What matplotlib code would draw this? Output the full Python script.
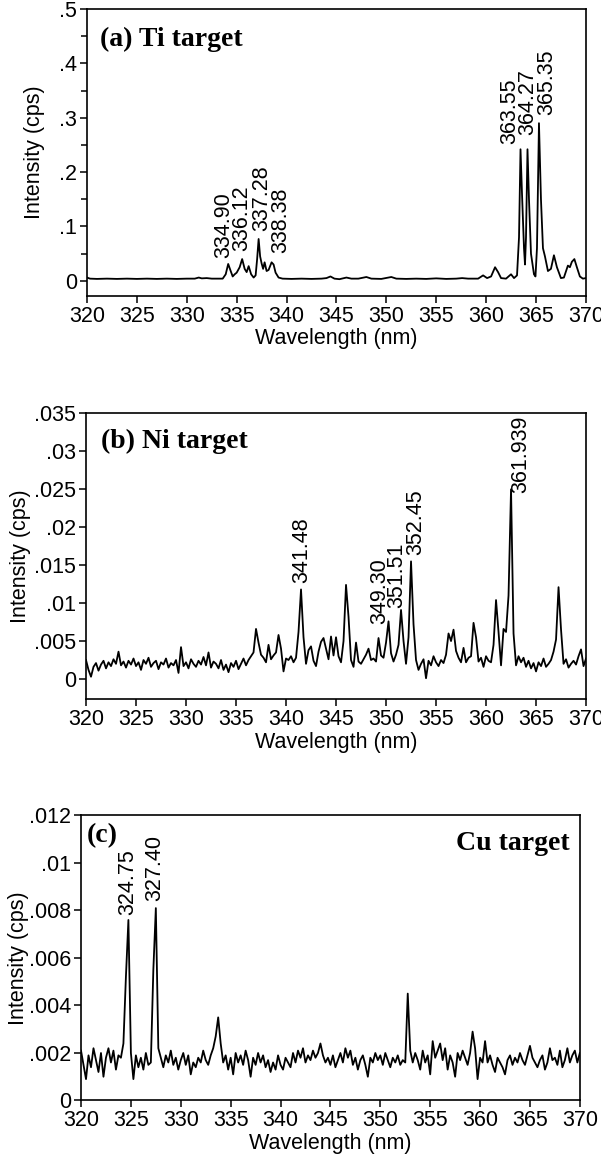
import matplotlib
matplotlib.use("Agg")
import matplotlib.pyplot as plt
from matplotlib.ticker import FixedLocator, FuncFormatter

plt.rcParams["font.family"] = ["Liberation Sans", "DejaVu Sans"]

# shared 0.25 nm sampling grid for the Ni and Cu scans
grid_wl = [
    320.0, 320.25, 320.5, 320.75, 321.0, 321.25, 321.5, 321.75,
    322.0, 322.25, 322.5, 322.75, 323.0, 323.25, 323.5, 323.75,
    324.0, 324.25, 324.5, 324.75, 325.0, 325.25, 325.5, 325.75,
    326.0, 326.25, 326.5, 326.75, 327.0, 327.25, 327.5, 327.75,
    328.0, 328.25, 328.5, 328.75, 329.0, 329.25, 329.5, 329.75,
    330.0, 330.25, 330.5, 330.75, 331.0, 331.25, 331.5, 331.75,
    332.0, 332.25, 332.5, 332.75, 333.0, 333.25, 333.5, 333.75,
    334.0, 334.25, 334.5, 334.75, 335.0, 335.25, 335.5, 335.75,
    336.0, 336.25, 336.5, 336.75, 337.0, 337.25, 337.5, 337.75,
    338.0, 338.25, 338.5, 338.75, 339.0, 339.25, 339.5, 339.75,
    340.0, 340.25, 340.5, 340.75, 341.0, 341.25, 341.5, 341.75,
    342.0, 342.25, 342.5, 342.75, 343.0, 343.25, 343.5, 343.75,
    344.0, 344.25, 344.5, 344.75, 345.0, 345.25, 345.5, 345.75,
    346.0, 346.25, 346.5, 346.75, 347.0, 347.25, 347.5, 347.75,
    348.0, 348.25, 348.5, 348.75, 349.0, 349.25, 349.5, 349.75,
    350.0, 350.25, 350.5, 350.75, 351.0, 351.25, 351.5, 351.75,
    352.0, 352.25, 352.5, 352.75, 353.0, 353.25, 353.5, 353.75,
    354.0, 354.25, 354.5, 354.75, 355.0, 355.25, 355.5, 355.75,
    356.0, 356.25, 356.5, 356.75, 357.0, 357.25, 357.5, 357.75,
    358.0, 358.25, 358.5, 358.75, 359.0, 359.25, 359.5, 359.75,
    360.0, 360.25, 360.5, 360.75, 361.0, 361.25, 361.5, 361.75,
    362.0, 362.25, 362.5, 362.75, 363.0, 363.25, 363.5, 363.75,
    364.0, 364.25, 364.5, 364.75, 365.0, 365.25, 365.5, 365.75,
    366.0, 366.25, 366.5, 366.75, 367.0, 367.25, 367.5, 367.75,
    368.0, 368.25, 368.5, 368.75, 369.0, 369.25, 369.5, 369.75,
    370.0,
]

# (a) Ti target
ti_wl = [
    320.0, 320.3, 321.0, 322.0, 323.0, 324.0, 325.0, 326.0, 327.0, 328.0,
    329.0, 330.0, 330.8, 331.2, 331.5, 332.0, 332.5, 333.0, 333.6, 333.9,
    334.15, 334.4, 334.6, 334.8, 335.0, 335.3, 335.55, 335.8, 336.0, 336.2,
    336.45, 336.7, 336.9, 337.05, 337.2, 337.35, 337.5, 337.65, 337.8, 338.0,
    338.2, 338.5, 338.7, 338.9, 339.2, 339.6, 340.5, 341.5, 342.5, 343.5,
    344.0, 344.4, 344.8, 345.3, 346.0, 346.5, 347.2, 348.0, 348.5, 349.5,
    350.5, 351.0, 352.0, 353.0, 354.0, 355.0, 356.0, 357.0, 357.6, 358.2,
    359.2, 359.7, 360.1, 360.5, 360.9, 361.2, 361.5, 362.0, 362.5, 362.8,
    363.1, 363.3, 363.45, 363.6, 363.8, 363.9, 364.0, 364.15, 364.3, 364.5,
    364.8, 364.95, 365.1, 365.3, 365.5, 365.7, 365.9, 366.2, 366.5, 366.8,
    367.1, 367.5, 367.8, 368.2, 368.4, 368.6, 368.85, 369.1, 369.4, 369.7,
    370.0,
]
ti_int = [
    .006, .004, .0035, .004, .0035, .004, .0035, .004, .0035, .004,
    .0035, .004, .004, .006, .0045, .005, .004, .004, .004, .012,
    .031, .018, .008, .012, .015, .025, .040, .022, .016, .027,
    .012, .006, .010, .040, .077, .045, .032, .022, .034, .018,
    .020, .034, .030, .015, .006, .004, .0035, .004, .0035, .004,
    .005, .008, .004, .003, .006, .004, .004, .007, .004, .0035,
    .007, .004, .0035, .004, .0035, .0045, .0035, .004, .005, .004,
    .004, .010, .005, .008, .025, .016, .005, .004, .012, .005,
    .010, .080, .242, .160, .060, .030, .080, .242, .150, .050,
    .012, .008, .060, .290, .150, .060, .045, .018, .022, .047,
    .025, .005, .006, .028, .025, .035, .040, .025, .008, .004,
    .005,
]
ti_lines = ["334.90", "336.12", "337.28", "338.38", "363.55", "364.27", "365.35"]
ti_label_x = [333.66, 335.5, 337.5, 339.4, 362.38, 364.22, 366.06]
ti_label_y = [0.042, 0.054, 0.091, 0.051, 0.252, 0.268, 0.305]
ti_yticks = [0, .1, .2, .3, .4, .5]

# (b) Ni target
ni_int = [
    .0025, .0012, .0003, .0016, .0021, .0011, .0019, .0024,
    .0014, .0022, .0017, .0026, .0020, .0036, .0018, .0023,
    .0015, .0024, .0019, .0027, .0017, .0022, .0012, .0025,
    .0020, .0028, .0016, .0021, .0024, .0013, .0022, .0019,
    .0027, .0015, .0021, .0018, .0025, .0008, .0042, .0017,
    .0022, .0014, .0026, .0020, .0016, .0024, .0019, .0029,
    .0018, .0035, .0015, .0023, .0020, .0014, .0025, .0012,
    .0019, .0009, .0021, .0016, .0024, .0013, .0020, .0027,
    .0018, .0025, .0030, .0035, .0066, .0048, .0032, .0028,
    .0022, .0045, .0026, .0031, .0035, .0058, .0040, .0010,
    .0027, .0025, .0030, .0022, .0028, .0062, .0118, .0055,
    .0020, .0038, .0043, .0024, .0017, .0036, .0049, .0054,
    .0040, .0026, .0056, .0031, .0055, .0030, .0022, .0050,
    .0124, .0082, .0025, .0016, .0048, .0023, .0020, .0026,
    .0032, .0040, .0025, .0027, .0023, .0054, .0031, .0028,
    .0048, .0076, .0034, .0023, .0032, .0045, .0091, .0050,
    .0020, .0055, .0155, .0072, .0025, .0012, .0020, .0026,
    .0001, .0024, .0018, .0030, .0022, .0017, .0025, .0021,
    .0032, .0060, .0050, .0065, .0037, .0028, .0022, .0041,
    .0022, .0028, .0030, .0074, .0055, .0023, .0028, .0016,
    .0030, .0024, .0022, .0045, .0104, .0062, .0018, .0066,
    .0062, .0110, .0250, .0060, .0018, .0030, .0022, .0028,
    .0016, .0024, .0014, .0021, .0010, .0022, .0017, .0027,
    .0016, .0020, .0025, .0036, .0052, .0121, .0065, .0020,
    .0026, .0015, .0020, .0024, .0019, .0030, .0039, .0017,
    .0027,
]
ni_lines = ["341.48", "349.30", "351.51", "352.45", "361.939"]
ni_label_x = [341.55, 349.4, 351.1, 353.0, 363.5]
ni_label_y = [0.0126, 0.0072, 0.0094, 0.0163, 0.0245]
ni_yticks = [0, .005, .01, .015, .02, .025, .03, .035]

# (c) Cu target
cu_int = [
    .0021, .0015, .0009, .0019, .0014, .0022, .0017, .0012,
    .0020, .0010, .0018, .0022, .0016, .0021, .0013, .0019,
    .0018, .0024, .0052, .0076, .0020, .0009, .0019, .0014,
    .0018, .0013, .0020, .0015, .0016, .0055, .0081, .0022,
    .0018, .0014, .0019, .0016, .0021, .0015, .0018, .0013,
    .0017, .0020, .0015, .0019, .0011, .0016, .0014, .0018,
    .0016, .0021, .0017, .0015, .0019, .0022, .0027, .0035,
    .0024, .0016, .0019, .0013, .0018, .0011, .0020, .0016,
    .0019, .0015, .0021, .0017, .0010, .0018, .0015, .0020,
    .0016, .0019, .0014, .0017, .0012, .0016, .0013, .0019,
    .0015, .0013, .0018, .0016, .0014, .0020, .0016, .0021,
    .0018, .0022, .0016, .0019, .0017, .0021, .0018, .0020,
    .0024, .0019, .0016, .0018, .0015, .0019, .0014, .0017,
    .0020, .0016, .0022, .0018, .0021, .0015, .0018, .0013,
    .0017, .0019, .0015, .0010, .0018, .0016, .0020, .0017,
    .0019, .0015, .0020, .0017, .0014, .0018, .0016, .0019,
    .0015, .0017, .0016, .0045, .0021, .0016, .0020, .0017,
    .0013, .0021, .0016, .0019, .0011, .0025, .0018, .0021,
    .0024, .0017, .0022, .0013, .0019, .0016, .0010, .0020,
    .0017, .0021, .0018, .0015, .0020, .0029, .0022, .0009,
    .0018, .0016, .0025, .0016, .0019, .0015, .0012, .0018,
    .0016, .0014, .0011, .0017, .0019, .0015, .0018, .0016,
    .0020, .0017, .0015, .0019, .0023, .0018, .0016, .0014,
    .0017, .0019, .0013, .0016, .0022, .0017, .0018, .0015,
    .0021, .0014, .0017, .0022, .0016, .0019, .0021, .0016,
    .0020,
]
cu_lines = ["324.75", "327.40"]
cu_label_x = [324.65, 327.35]
cu_label_y = [0.0078, 0.0084]
cu_yticks = [0, .002, .004, .006, .008, .01, .012]

x_ticks = [320, 325, 330, 335, 340, 345, 350, 355, 360, 365, 370]

FS = 15.5
SERIF = ["Liberation Serif", "DejaVu Serif"]


def _no_lead_zero(v, _pos):
    if abs(v) < 1e-12:
        return "0"
    s = f"{v:.4f}".rstrip("0").rstrip(".")
    return s[1:] if s.startswith("0.") else s


def _panel(ax, wl, inten, yticks, ylim, labels, lx, ly, ylab_x):
    ax.plot(wl, inten, color="black", lw=1.3)
    ax.set_xlim(320, 370)
    ax.set_ylim(*ylim)
    ax.xaxis.set_major_locator(FixedLocator(x_ticks))
    ax.yaxis.set_major_locator(FixedLocator(yticks))
    ax.yaxis.set_major_formatter(FuncFormatter(_no_lead_zero))
    ax.tick_params(direction="out", length=5, width=1.1, labelsize=FS, pad=2)
    for sp in ax.spines.values():
        sp.set_linewidth(1.2)
    ax.set_xlabel("Wavelength (nm)", fontsize=FS, labelpad=1)
    ax.set_ylabel("Intensity (cps)", fontsize=FS)
    ax.yaxis.set_label_coords(ylab_x, 0.5)
    for text, x, y in zip(labels, lx, ly):
        ax.text(x, y, text, rotation=90, ha="center", va="bottom", fontsize=FS)


fig = plt.figure(figsize=(6.01, 11.6), dpi=100)
ax_a = fig.add_axes([0.1448, 0.7448, 0.830, 0.2474])
ax_b = fig.add_axes([0.1431, 0.3970, 0.832, 0.2466])
ax_c = fig.add_axes([0.1348, 0.0513, 0.830, 0.2457])

_panel(ax_a, ti_wl, ti_int, ti_yticks, (-0.028, 0.5), ti_lines, ti_label_x, ti_label_y, -0.085)
ax_a.yaxis.set_minor_locator(FixedLocator([.05, .15, .25, .35, .45]))
ax_a.tick_params(axis="y", which="minor", direction="out", length=4, width=1.1)
ax_a.text(0.026, 0.87, "(a) Ti target", transform=ax_a.transAxes, family=SERIF,
          fontweight="bold", fontsize=20, va="baseline")

_panel(ax_b, grid_wl, ni_int, ni_yticks, (-0.0027, 0.035), ni_lines, ni_label_x, ni_label_y, -0.11)
ax_b.text(0.029, 0.878, "(b) Ni target", transform=ax_b.transAxes, family=SERIF,
          fontweight="bold", fontsize=20, va="baseline")

_panel(ax_c, grid_wl, cu_int, cu_yticks, (0, 0.012), cu_lines, cu_label_x, cu_label_y, -0.105)
ax_c.text(0.012, 0.908, "(c)", transform=ax_c.transAxes, family=SERIF,
          fontweight="bold", fontsize=20, va="baseline")
ax_c.text(0.98, 0.879, "Cu target", transform=ax_c.transAxes, family=SERIF,
          fontweight="bold", fontsize=20, va="baseline", ha="right")

fig.savefig("out.png", dpi=100)
